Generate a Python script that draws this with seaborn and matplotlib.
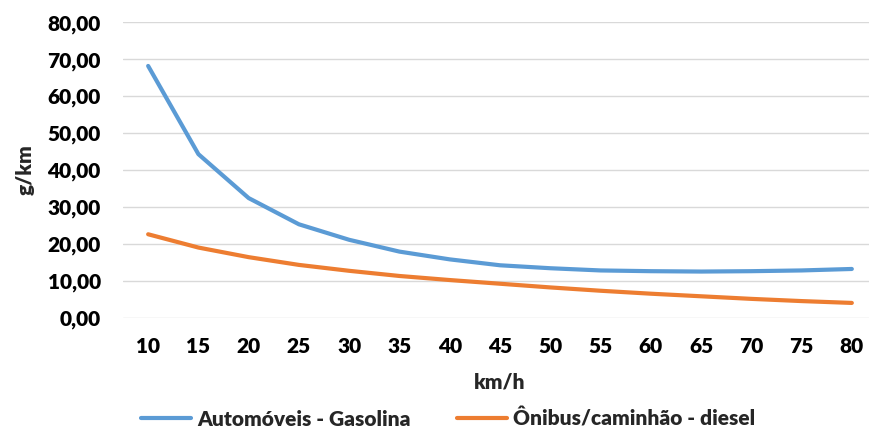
import matplotlib
matplotlib.use("Agg")
import matplotlib.pyplot as plt
from matplotlib.ticker import FuncFormatter
import seaborn as sns
import pandas as pd

speeds = [10, 15, 20, 25, 30, 35, 40, 45, 50, 55, 60, 65, 70, 75, 80]
gasolina = [68.2, 44.3, 32.4, 25.3, 21.1, 17.9, 15.8, 14.2, 13.4, 12.8, 12.6, 12.5, 12.6, 12.8, 13.2]
diesel = [22.6, 19.0, 16.4, 14.3, 12.7, 11.3, 10.2, 9.2, 8.2, 7.3, 6.5, 5.8, 5.1, 4.5, 4.0]
series_names = ["Automóveis - Gasolina", "Ônibus/caminhão - diesel"]
yticks = [0, 10, 20, 30, 40, 50, 60, 70, 80]

df = pd.DataFrame({
    "km/h": speeds * 2,
    "g/km": gasolina + diesel,
    "serie": [series_names[0]] * len(speeds) + [series_names[1]] * len(speeds),
})

sns.set_style("white")
plt.rcParams["font.family"] = ["Lato", "DejaVu Sans"]
W = "heavy"
FS = 15

fig = plt.figure(figsize=(8.7, 4.33), dpi=100)
ax = fig.add_axes([0.1414, 0.2663, 1.008 - 0.1414, 0.9483 - 0.2663])

palette = {series_names[0]: "#5B9BD5", series_names[1]: "#ED7D31"}
sns.lineplot(data=df, x="km/h", y="g/km", hue="serie", palette=palette,
             linewidth=3.0, ax=ax, solid_capstyle="round")

ax.set_xlim(7.5, 82.5)
ax.set_ylim(0, 80)
ax.set_xticks(speeds)
ax.set_yticks(yticks)
ax.yaxis.set_major_formatter(FuncFormatter(lambda v, p: f"{v:.2f}".replace(".", ",")))
ax.grid(axis="y", color="#D9D9D9", linewidth=1.0)
ax.grid(axis="x", visible=False)
ax.set_axisbelow(True)
for s in ax.spines.values():
    s.set_visible(False)
ax.tick_params(axis="both", length=0, labelsize=FS, colors="black")
ax.tick_params(axis="x", pad=14)
ax.tick_params(axis="y", pad=16)
for lab in ax.get_xticklabels() + ax.get_yticklabels():
    lab.set_fontweight(W)

ax.set_xlabel("km/h", fontsize=FS, fontweight=W, labelpad=12)
ax.set_ylabel("g/km", fontsize=FS, fontweight=W, labelpad=9)

handles, labels = ax.get_legend_handles_labels()
leg = fig.legend(handles, labels, loc="center", bbox_to_anchor=(0.515, 0.033), ncol=2,
                 frameon=False, fontsize=FS, handlelength=2.4, handletextpad=0.3,
                 columnspacing=2.2, bbox_transform=fig.transFigure, borderaxespad=0.0)
if ax.get_legend():
    ax.get_legend().remove()
for t in leg.get_texts():
    t.set_fontweight(W)

fig.savefig("out.png", dpi=100)
